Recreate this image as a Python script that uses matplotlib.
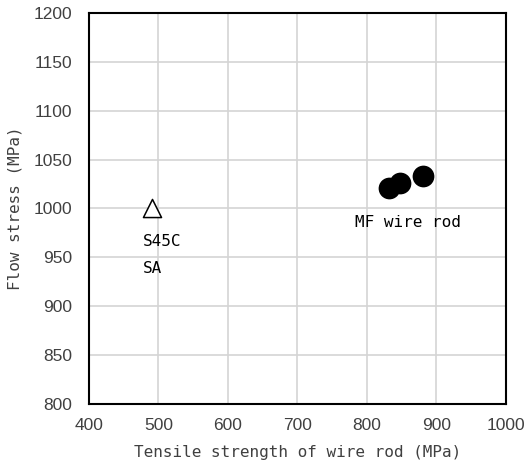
import matplotlib
matplotlib.use("Agg")
import matplotlib.pyplot as plt

# Data
mf_strength = [831, 847, 880]
mf_flow = [1021, 1026, 1033]
s45c_strength = [490]
s45c_flow = [1000]
x_ticks = [400, 500, 600, 700, 800, 900, 1000]
y_ticks = [800, 850, 900, 950, 1000, 1050, 1100, 1150, 1200]

mono = "DejaVu Sans Mono"
tickfont = "Liberation Sans"

fig = plt.figure(figsize=(5.25, 4.68), dpi=100)
ax = fig.add_axes([0.1695, 0.1368, 0.7943, 0.8354])

ax.scatter(mf_strength, mf_flow, s=245, c="black", zorder=3, linewidths=0)
ax.scatter(s45c_strength, s45c_flow, s=170, marker="^", facecolors="white",
           edgecolors="black", linewidths=1.1, zorder=3)

ax.set_xlim(400, 1000)
ax.set_ylim(800, 1200)
ax.set_xticks(x_ticks)
ax.set_yticks(y_ticks)
ax.grid(True, color="#d4d4d4", linewidth=1.2)
ax.set_axisbelow(True)
for s in ax.spines.values():
    s.set_linewidth(1.5)
    s.set_color("black")
ax.tick_params(length=0, labelsize=12.5, colors="#404040")
ax.tick_params(axis="y", pad=12)
ax.tick_params(axis="x", pad=10)
for lab in ax.get_xticklabels() + ax.get_yticklabels():
    lab.set_fontfamily(tickfont)

ax.set_xlabel("Tensile strength of wire rod (MPa)", fontsize=11.5, family=mono,
              color="#404040", labelpad=9)
ax.set_ylabel("Flow stress (MPa)", fontsize=11.5, family=mono,
              color="#404040", labelpad=8)

ax.text(859, 986, "MF wire rod", fontsize=11.5, family=mono, ha="center",
        va="center", color="black")
ax.text(477, 966, "S45C", fontsize=11.5, family=mono, ha="left",
        va="center", color="black")
ax.text(477, 939, "SA", fontsize=11.5, family=mono, ha="left",
        va="center", color="black")

fig.savefig("out.png", dpi=100)
